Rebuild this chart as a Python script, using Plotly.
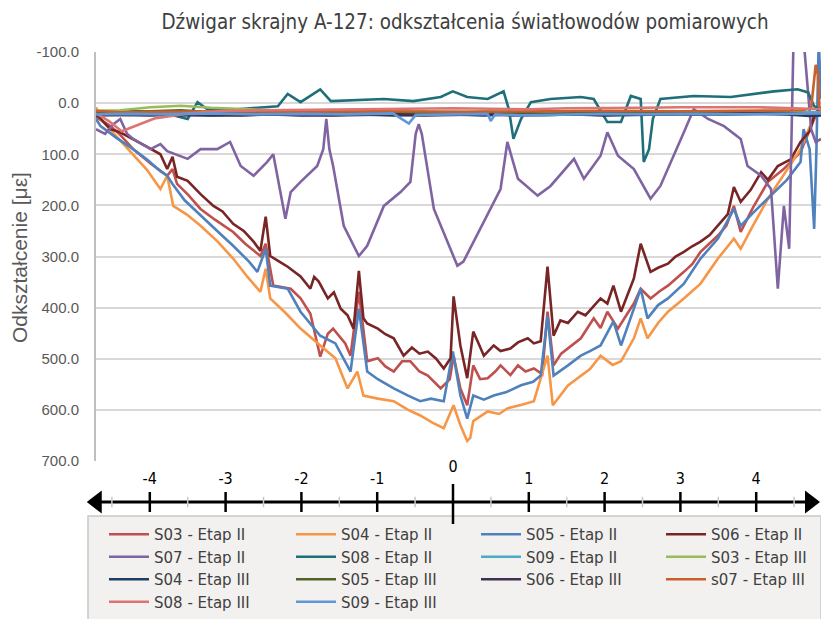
import plotly.graph_objects as go

# ---------------- data ----------------
title_text = "Dźwigar skrajny A-127: odkształcenia światłowodów pomiarowych"
y_title = "Odkształcenie [με]"

s06_2_x = [-4.72,-4.53,-4.40,-4.23,-4.05,-3.87,-3.78,-3.71,-3.65,-3.51,-3.34,-3.17,-3.05,-2.91,-2.77,-2.64,-2.55,-2.48,-2.42,-2.30,-2.19,-2.02,-1.89,-1.84,-1.78,-1.66,-1.58,-1.49,-1.40,-1.32,-1.25,-1.19,-1.14,-1.00,-0.90,-0.79,-0.66,-0.55,-0.45,-0.34,-0.23,-0.13,-0.04,0.00,0.09,0.18,0.26,0.33,0.40,0.53,0.62,0.75,0.85,0.98,1.06,1.15,1.24,1.32,1.41,1.51,1.64,1.74,1.85,1.94,2.03,2.11,2.21,2.30,2.38,2.47,2.60,2.70,2.83,2.93,3.04,3.15,3.26,3.38,3.49,3.62,3.70,3.79,3.92,4.06,4.15,4.28,4.45,4.58,4.70,4.76,4.85]
s06_2_y = [21,51,57,70,85,100,129,105,144,152,178,201,212,236,250,271,289,222,299,310,320,339,363,340,349,382,370,402,415,441,328,421,431,441,452,460,494,478,490,486,500,519,499,378,474,538,447,470,494,474,485,480,468,460,470,466,320,455,425,430,408,415,398,382,392,357,408,373,343,275,330,322,314,300,291,280,271,258,240,217,164,193,170,135,150,123,110,76,55,25,8]

s03_2_x = [-4.72,-4.53,-4.40,-4.23,-4.00,-3.78,-3.71,-3.65,-3.50,-3.34,-3.15,-2.91,-2.75,-2.55,-2.48,-2.38,-2.15,-2.02,-1.89,-1.76,-1.66,-1.59,-1.43,-1.36,-1.25,-1.14,-1.00,-0.90,-0.79,-0.68,-0.57,-0.45,-0.34,-0.17,-0.05,0.00,0.09,0.18,0.26,0.35,0.45,0.55,0.62,0.75,0.85,0.95,1.06,1.17,1.24,1.32,1.42,1.51,1.68,1.85,1.94,2.03,2.17,2.28,2.38,2.47,2.60,2.72,2.83,3.04,3.15,3.26,3.49,3.60,3.70,3.79,3.95,4.15,4.35,4.58,4.76,4.85]
s03_2_y = [27,45,62,90,118,142,129,158,180,207,228,252,275,299,275,357,363,382,412,496,451,441,470,494,369,505,499,515,525,505,505,525,533,558,540,494,558,591,513,540,538,525,513,532,513,525,519,530,408,513,490,480,460,421,440,408,441,415,392,363,382,368,357,330,315,291,259,240,201,252,205,154,130,96,31,12]

s05_2_x = [-4.72,-4.66,-4.45,-4.23,-4.05,-3.87,-3.78,-3.71,-3.55,-3.34,-3.12,-2.91,-2.70,-2.59,-2.48,-2.42,-2.19,-2.02,-1.90,-1.76,-1.56,-1.45,-1.36,-1.25,-1.14,-1.00,-0.79,-0.60,-0.44,-0.30,-0.13,-0.01,0.09,0.18,0.26,0.40,0.53,0.70,0.89,1.05,1.15,1.24,1.32,1.51,1.68,1.80,1.94,2.11,2.21,2.38,2.47,2.56,2.70,2.83,3.04,3.26,3.49,3.70,3.79,3.95,4.15,4.40,4.58,4.62,4.70,4.76,4.79,4.82,4.85]
s05_2_y = [31,45,68,90,110,133,142,158,190,220,250,279,310,330,285,357,363,408,430,455,470,500,525,402,525,540,558,572,583,578,583,486,572,617,572,580,572,565,552,545,533,416,533,513,494,485,474,427,474,402,363,421,395,382,353,304,265,207,240,215,187,150,115,51,90,246,90,-125,-8]

s04_2_x = [-4.72,-4.66,-4.45,-4.23,-4.05,-3.87,-3.78,-3.70,-3.52,-3.34,-3.12,-2.91,-2.72,-2.55,-2.48,-2.42,-2.22,-2.02,-1.88,-1.76,-1.56,-1.40,-1.27,-1.19,-1.00,-0.79,-0.60,-0.44,-0.28,-0.13,0.00,0.09,0.18,0.22,0.26,0.45,0.60,0.71,0.90,1.06,1.24,1.31,1.51,1.68,1.80,1.94,2.10,2.21,2.38,2.47,2.56,2.70,2.83,3.04,3.26,3.49,3.70,3.79,3.95,4.15,4.40,4.58,4.76,4.85]
s04_2_y = [8,31,65,100,130,168,142,201,218,240,270,304,340,369,324,382,410,441,458,474,499,558,525,572,578,583,600,611,625,636,591,630,661,655,622,603,608,597,590,583,494,591,552,533,520,494,512,505,460,421,460,430,408,382,353,304,265,285,240,187,130,90,25,8]

s07_2_x = [-4.72,-4.60,-4.49,-4.40,-4.31,-4.23,-4.00,-3.87,-3.78,-3.51,-3.34,-3.12,-2.95,-2.81,-2.64,-2.46,-2.38,-2.29,-2.22,-2.15,-2.02,-1.80,-1.72,-1.68,-1.64,-1.59,-1.45,-1.25,-1.14,-0.92,-0.70,-0.57,-0.50,-0.46,-0.42,-0.26,0.05,0.13,0.40,0.62,0.71,0.85,1.11,1.28,1.59,1.72,1.94,2.03,2.17,2.38,2.60,2.73,3.04,3.17,3.36,3.57,3.79,3.88,4.06,4.19,4.28,4.36,4.43,4.49,4.54,4.62,4.72,4.78,4.85]
s07_2_y = [51,60,41,31,60,70,90,80,94,109,90,90,76,123,142,115,100,168,226,174,154,123,90,31,90,123,240,299,279,201,174,154,60,41,60,207,318,310,232,168,76,148,181,162,109,148,103,57,103,129,187,162,57,12,31,45,70,123,142,168,363,201,285,-144,-200,-125,51,76,70]

s08_2_x = [-4.72,-4.27,-3.91,-3.51,-3.38,-3.25,-2.85,-2.32,-2.19,-2.02,-1.76,-1.62,-0.92,-0.53,-0.17,-0.01,0.18,0.45,0.66,0.73,0.79,0.89,1.02,1.28,1.68,1.85,2.03,2.21,2.34,2.47,2.51,2.58,2.63,2.73,3.17,3.66,4.23,4.54,4.68,4.76,4.85]
s08_2_y = [25,16,16,31,-2,12,12,6,-18,-2,-27,-4,-8,-4,-12,-23,-12,-8,-23,12,70,31,-2,-8,-12,-8,37,37,-14,-8,115,90,31,-8,-14,-12,-23,-27,-21,6,12]

flat_x = [-4.72,-4.40,-4.00,-3.60,-3.20,-2.80,-2.40,-2.00,-1.60,-1.20,-0.80,-0.40,0.00,0.40,0.80,1.20,1.60,2.00,2.40,2.80,3.20,3.60,4.00,4.40,4.70,4.85]
s09_2_y = [18,20,17,19,18,20,17,19,18,17,19,18,17,19,18,17,16,18,17,16,17,18,16,17,18,18]
s03_3_y = [15,14,8,5,9,12,14,15,16,15,17,16,18,16,17,18,16,17,18,17,18,19,18,17,20,22]
s04_3_y = [22,23,24,22,24,23,22,24,23,22,24,23,22,24,22,23,22,24,23,22,21,22,21,22,25,24]
s05_3_y = [20,19,16,14,18,20,21,19,20,21,20,19,21,20,19,21,20,19,20,21,20,19,18,19,22,20]
s06_3_y = [24,23,22,24,23,24,22,23,24,23,22,24,23,22,24,23,22,23,22,21,22,21,20,21,23,22]

s07_3_x = [-4.72,-4.40,-4.00,-3.00,-2.00,-1.00,0.00,1.00,2.00,3.00,4.00,4.60,4.72,4.76,4.78,4.81,4.83,4.85]
s07_3_y = [15,18,17,16,17,16,17,16,15,16,15,14,10,-40,-75,-55,10,15]

s08_3_x = [-4.72,-4.55,-4.38,-4.20,-3.95,-3.50,-3.00,-2.50,-2.00,-1.50,-1.00,-0.50,0.00,0.50,1.00,1.50,2.00,2.50,3.00,3.50,4.00,4.50,4.85]
s08_3_y = [20,35,55,45,30,20,15,14,13,12,12,10,10,11,12,10,10,9,8,8,8,10,12]

s09_3_x = [-4.72,-4.30,-3.80,-3.20,-2.60,-2.00,-1.40,-0.80,-0.59,-0.50,0.00,0.45,0.49,0.55,0.89,1.40,2.00,2.60,3.20,3.80,4.40,4.70,4.85]
s09_3_y = [22,21,22,20,22,21,22,20,40,23,22,21,35,22,24,22,21,22,21,22,21,20,20]

# (name, x, y, colour, legend column)
series = [
    ("S03 - Etap II", s03_2_x, s03_2_y, "#c0504d", "legend"),
    ("S04 - Etap II", s04_2_x, s04_2_y, "#f79646", "legend2"),
    ("S05 - Etap II", s05_2_x, s05_2_y, "#4f81bd", "legend3"),
    ("S06 - Etap II", s06_2_x, s06_2_y, "#7a2525", "legend4"),
    ("S07 - Etap II", s07_2_x, s07_2_y, "#8064a2", "legend"),
    ("S08 - Etap II", s08_2_x, s08_2_y, "#1f6f7b", "legend2"),
    ("S09 - Etap II", flat_x, s09_2_y, "#4bacc6", "legend3"),
    ("S03 - Etap III", flat_x, s03_3_y, "#9bbb59", "legend4"),
    ("S04 - Etap III", flat_x, s04_3_y, "#1f3d63", "legend"),
    ("S05 - Etap III", flat_x, s05_3_y, "#4f6228", "legend2"),
    ("S06 - Etap III", flat_x, s06_3_y, "#3f3151", "legend3"),
    ("s07 - Etap III", s07_3_x, s07_3_y, "#c8602c", "legend4"),
    ("S08 - Etap III", s08_3_x, s08_3_y, "#dc7473", "legend"),
    ("S09 - Etap III", s09_3_x, s09_3_y, "#5f97d8", "legend2"),
]

y_ticks = [-100, 0, 100, 200, 300, 400, 500, 600, 700]
nl_ticks = [-4, -3, -2, -1, 0, 1, 2, 3, 4]
nl_minor = [-4.5, -3.5, -2.5, -1.5, -0.5, 0.5, 1.5, 2.5, 3.5, 4.5]
nl_ends = [-4.70, 4.71]

# ---------------- figure ----------------
W, H = 821, 619
ML, MT = 88, 52
PW, PH = W - ML, H - MT

def px_x(p):
    return (p - ML) / PW

def px_y(p):
    return (H - p) / PH

fig = go.Figure()

for name, xs, ys, col, lg in series:
    fig.add_trace(go.Scatter(x=xs, y=ys, mode="lines", name=name,
                             line=dict(color=col, width=2.6),
                             xaxis="x", yaxis="y", legend=lg))

# number line
fig.add_trace(go.Scatter(x=nl_ends, y=[0, 0], mode="lines+markers",
                         line=dict(color="black", width=3),
                         marker=dict(symbol=["triangle-left", "triangle-right"], size=20, color="black"),
                         xaxis="x2", yaxis="y2", showlegend=False, hoverinfo="skip", cliponaxis=False))
tx, ty = [], []
for t in nl_ticks:
    tx += [t, t, None]
    ty += ([-0.55, 0.45, None] if t == 0 else [-0.25, 0.25, None])
fig.add_trace(go.Scatter(x=tx, y=ty, mode="lines", line=dict(color="black", width=2.5),
                         xaxis="x2", yaxis="y2", showlegend=False, hoverinfo="skip"))
mx, my = [], []
for t in nl_minor:
    mx += [t, t, None]
    my += [-0.13, 0.13, None]
fig.add_trace(go.Scatter(x=mx, y=my, mode="lines", line=dict(color="#c8c8c8", width=1.5),
                         xaxis="x2", yaxis="y2", showlegend=False, hoverinfo="skip"))
fig.add_trace(go.Scatter(x=nl_ticks, y=[0.85 if t == 0 else 0.55 for t in nl_ticks],
                         mode="text", text=[str(t) for t in nl_ticks], cliponaxis=False,
                         textfont=dict(family="Liberation Sans Narrow, DejaVu Sans Condensed, sans-serif", size=16, color="black"),
                         xaxis="x2", yaxis="y2", showlegend=False, hoverinfo="skip"))

main_dom_x = [px_x(96), 1.0]
main_dom_y = [px_y(461), 1.0]
nl_dom_y = [px_y(542), px_y(462)]

legend_font = dict(family="DejaVu Sans, sans-serif", size=15, color="#404040")
col_x = [104, 291, 476, 661]
def legend_cfg(px):
    return dict(orientation="v", x=px_x(px), y=px_y(518), xanchor="left", yanchor="top",
                bgcolor="rgba(0,0,0,0)", borderwidth=0, font=legend_font,
                itemwidth=40, traceorder="normal", tracegroupgap=0)

fig.update_layout(
    width=W, height=H,
    margin=dict(l=ML, r=0, t=MT, b=0, autoexpand=False),
    paper_bgcolor="white", plot_bgcolor="white",
    font=dict(family="Liberation Sans, Arial, sans-serif", color="#595959"),
    title=dict(text=title_text, x=465 / W, y=1 - 22 / H, xanchor="center", yanchor="middle",
               font=dict(family="Liberation Sans Narrow, DejaVu Sans Condensed, sans-serif", size=20.4, color="#404040")),
    xaxis=dict(domain=main_dom_x, range=[-4.72, 4.85], showgrid=False, zeroline=False,
               showticklabels=False, ticks="", showline=True, linecolor="white", linewidth=3,
               anchor="y"),
    yaxis=dict(domain=main_dom_y, range=[700, -100], tickvals=y_ticks,
               ticktext=[f"{v:.1f}" for v in y_ticks],
               showgrid=True, gridcolor="#d9d9d9", gridwidth=1.5, zeroline=False,
               showline=True, linecolor="#bfbfbf", linewidth=2, ticks="",
               ticklabelstandoff=12, tickfont=dict(size=15, color="#595959"), anchor="x"),
    xaxis2=dict(domain=[0, 1], range=[(ML - 453) / 75.8, (W - 453) / 75.8], visible=False, anchor="y2"),
    yaxis2=dict(domain=nl_dom_y, range=[-1, 1], visible=False, anchor="x2"),
    showlegend=True,
    legend=legend_cfg(col_x[0]),
    legend2=legend_cfg(col_x[1]),
    legend3=legend_cfg(col_x[2]),
    legend4=legend_cfg(col_x[3]),
    shapes=[dict(type="rect", xref="paper", yref="paper", x0=0, x1=1,
                 y0=px_y(640), y1=px_y(516), line=dict(color="#c8c8c8", width=1.5),
                 fillcolor="#f3f1ef", layer="below")],
    annotations=[dict(text=y_title, xref="paper", yref="paper", x=px_x(19), y=px_y(258),
                      xanchor="center", yanchor="middle", textangle=-90, showarrow=False,
                      font=dict(size=21, color="#595959"))],
)

fig.write_html("out.html", config={"displayModeBar": False},
               post_script="document.body.style.margin='0px';document.body.style.overflow='hidden';")
